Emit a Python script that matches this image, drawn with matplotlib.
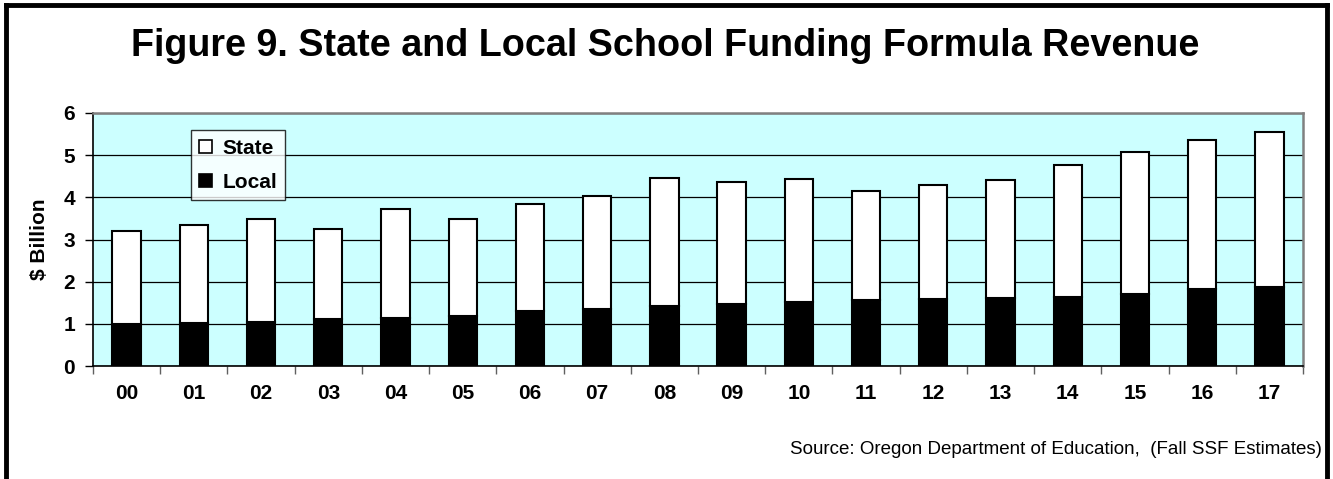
import matplotlib
matplotlib.use("Agg")
import matplotlib.pyplot as plt
from matplotlib.patches import Patch
from matplotlib.lines import Line2D
import numpy as np

plt.rcParams['font.family'] = ['Liberation Sans', 'DejaVu Sans']

years = ["00", "01", "02", "03", "04", "05", "06", "07", "08",
         "09", "10", "11", "12", "13", "14", "15", "16", "17"]
total = [3.21, 3.35, 3.48, 3.26, 3.72, 3.49, 3.84, 4.04, 4.45,
         4.36, 4.43, 4.16, 4.30, 4.41, 4.77, 5.08, 5.37, 5.56]
local = [0.99, 1.02, 1.05, 1.12, 1.14, 1.18, 1.31, 1.36, 1.43,
         1.46, 1.51, 1.57, 1.59, 1.62, 1.64, 1.71, 1.82, 1.88]
state = [t - l for t, l in zip(total, local)]

title = "Figure 9. State and Local School Funding Formula Revenue"
source = "Source: Oregon Department of Education,  (Fall SSF Estimates)"

W, H = 1333, 479
fig = plt.figure(figsize=(W / 100, H / 100), dpi=100)
ax = fig.add_axes([93 / W, 1 - 366 / H, (1303 - 93) / W, (366 - 113) / H])

x = np.arange(len(years))
bw = 0.42
ax.set_facecolor("#CCFFFF")
ax.bar(x, local, bw, color="black", edgecolor="black", linewidth=1.5, zorder=3)
ax.bar(x, state, bw, bottom=local, color="white", edgecolor="black",
       linewidth=1.5, zorder=3)

ax.set_ylim(0, 6)
ax.set_xlim(-0.5, len(years) - 0.5)
ax.set_yticks(range(0, 7))
ax.yaxis.grid(True, color="black", linewidth=0.9, zorder=1)
ax.set_axisbelow(True)

# category labels centred under bars, tick marks between categories
ax.set_xticks(x)
ax.set_xticklabels(years, fontsize=15, fontweight="bold")
ax.tick_params(axis="x", length=0, pad=13)
ax.set_xticks(np.arange(-0.5, len(years)), minor=True)
ax.tick_params(axis="x", which="minor", length=6, color="#606060", width=1)
ax.tick_params(axis="y", labelsize=15, length=6, width=1, pad=7)
for lbl in ax.get_yticklabels():
    lbl.set_fontweight("bold")

for side in ("top", "right"):
    ax.spines[side].set_color("#808080")
    ax.spines[side].set_linewidth(1.8)
ax.spines["left"].set_color("black")
ax.spines["bottom"].set_color("black")
ax.spines["left"].set_linewidth(1.2)
ax.spines["bottom"].set_linewidth(1.2)

ax.set_ylabel("$ Billion", fontsize=15, fontweight="bold", labelpad=10)

handles = [Patch(facecolor="white", edgecolor="black", linewidth=1.2),
           Patch(facecolor="black", edgecolor="black", linewidth=1.2)]
leg = ax.legend(handles, ["State", "Local"], loc="upper left",
                bbox_to_anchor=(0.081, 0.932), prop={"weight": "bold", "size": 15},
                frameon=True, fancybox=False, edgecolor="black",
                handlelength=0.6, handleheight=0.6, handletextpad=0.5,
                borderpad=0.4, labelspacing=0.75, borderaxespad=0)
leg.get_frame().set_linewidth(1.0)
leg.set_zorder(5)

fig.text(0.4993, 1 - 46 / H, title, ha="center", va="center",
         fontsize=27.2, fontweight="bold")
fig.text(1322 / W, 1 - 450 / H, source, ha="right", va="center", fontsize=13.5)

# outer frame on left, top and right
for xs, ys in [([6 / W, 6 / W], [0, 1 - 5 / H]),
               ([6 / W, 1327 / W], [1 - 5 / H, 1 - 5 / H]),
               ([1327 / W, 1327 / W], [1 - 5 / H, 0])]:
    fig.add_artist(Line2D(xs, ys, color="black", linewidth=3.5, solid_capstyle="projecting"))

fig.savefig("out.png", dpi=100)
